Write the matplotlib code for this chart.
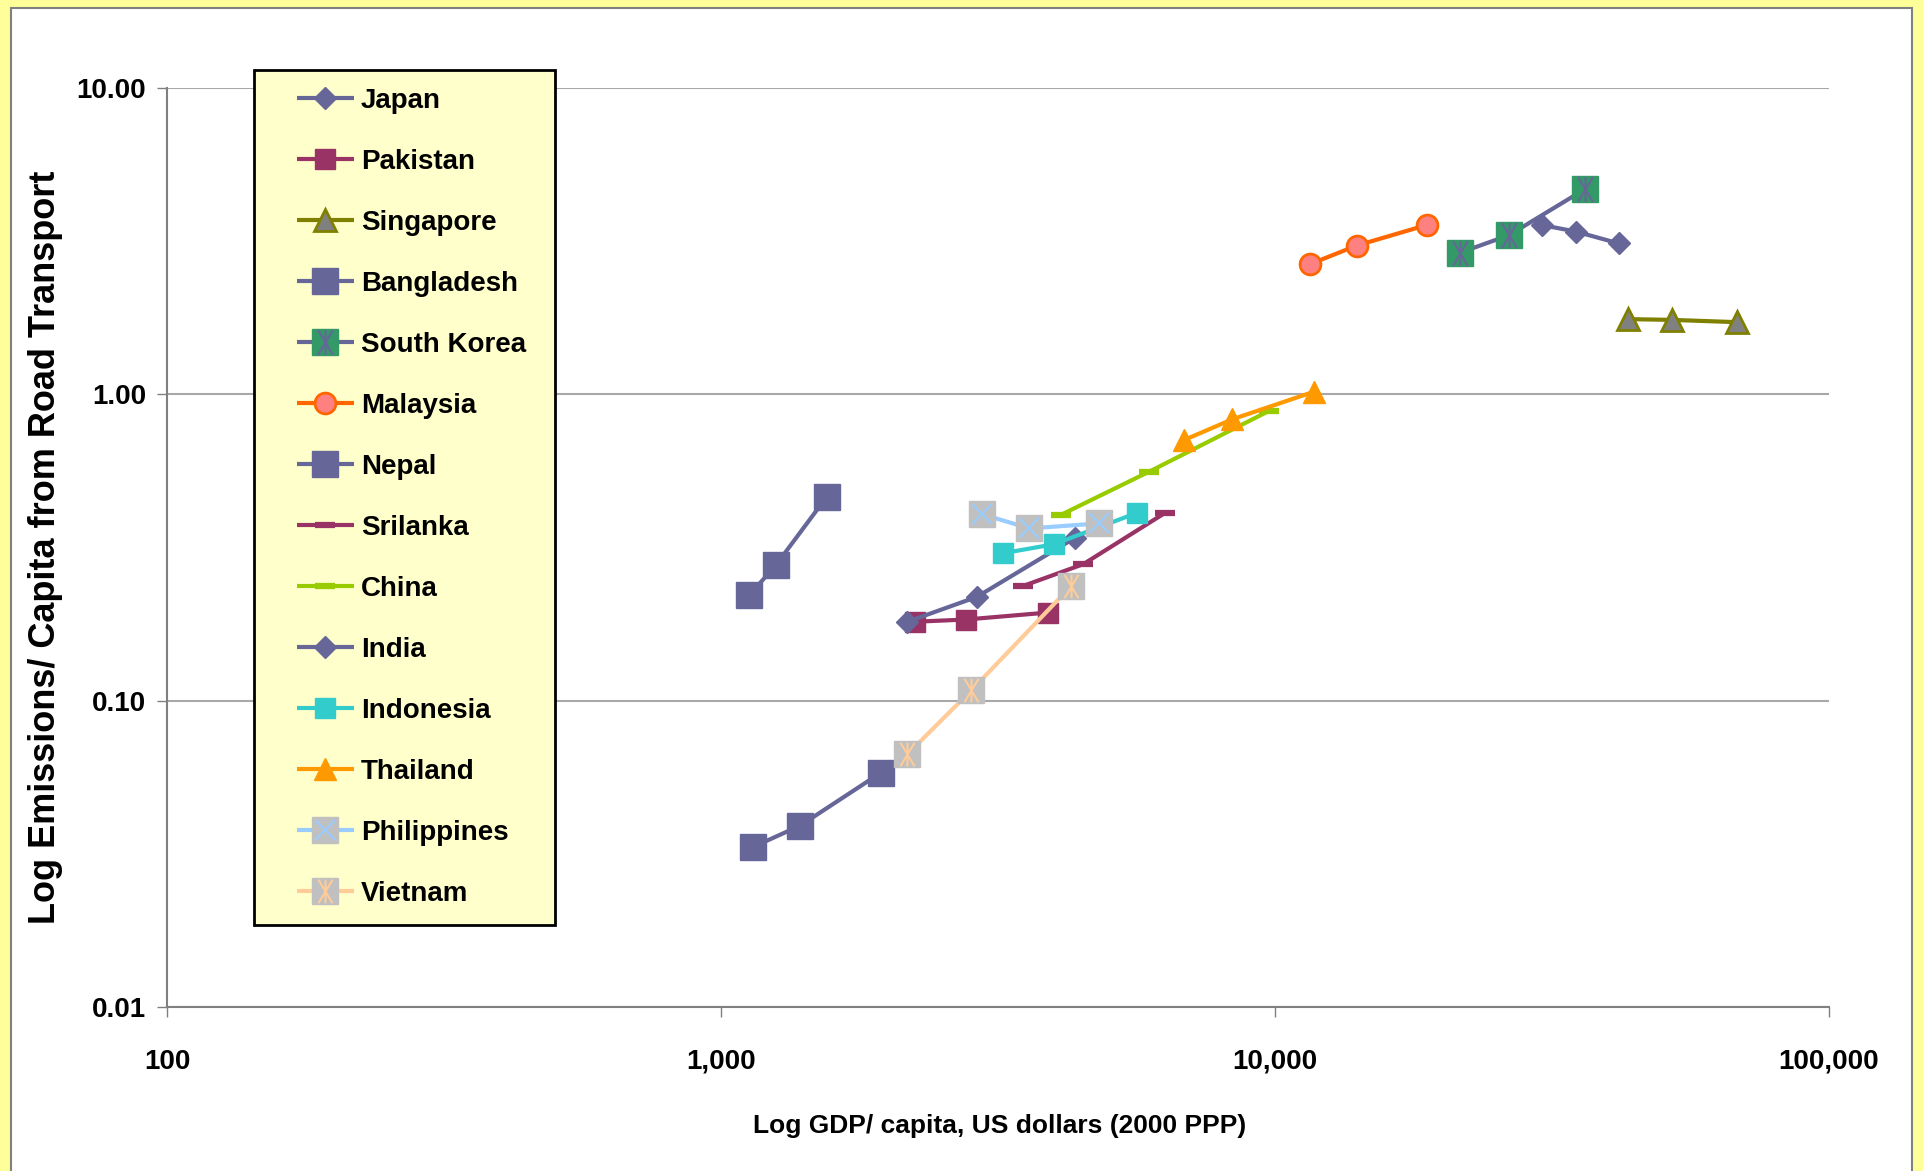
import numpy as np
import matplotlib.pyplot as plt
from matplotlib.patches import Rectangle
from matplotlib.path import Path
from matplotlib.legend_handler import HandlerTuple
from matplotlib.ticker import NullLocator

plt.rcParams['font.family'] = ['Liberation Sans', 'DejaVu Sans']
plt.rcParams['font.weight'] = 'bold'

# GDP per capita (US$ 2000 PPP) and road transport emissions per capita
countries = ["Japan", "Pakistan", "Singapore", "Bangladesh", "South Korea", "Malaysia", "Nepal",
             "Srilanka", "China", "India", "Indonesia", "Thailand", "Philippines", "Vietnam"]

japan_gdp = [30300, 34900, 41700]
japan_em = [3.57, 3.40, 3.11]
pakistan_gdp = [2240, 2765, 3900]
pakistan_em = [0.181, 0.184, 0.194]
singapore_gdp = [43450, 52000, 68300]
singapore_em = [1.76, 1.75, 1.72]
bangladesh_gdp = [1125, 1256, 1552]
bangladesh_em = [0.221, 0.277, 0.463]
korea_gdp = [21580, 26470, 36300]
korea_em = [2.90, 3.31, 4.68]
malaysia_gdp = [11560, 14050, 18780]
malaysia_em = [2.66, 3.06, 3.57]
nepal_gdp = [1143, 1390, 1944]
nepal_em = [0.0333, 0.0391, 0.0582]
srilanka_gdp = [3514, 4508, 6330]
srilanka_em = [0.237, 0.279, 0.410]
china_gdp = [4105, 5925, 9770]
china_em = [0.404, 0.559, 0.884]
india_gdp = [2170, 2894, 4355]
india_em = [0.181, 0.218, 0.340]
indonesia_gdp = [3233, 3990, 5627]
indonesia_em = [0.303, 0.324, 0.410]
thailand_gdp = [6850, 8375, 11760]
thailand_em = [0.709, 0.829, 1.02]
philippines_gdp = [2963, 3602, 4819]
philippines_em = [0.406, 0.365, 0.379]
vietnam_gdp = [2169, 2830, 4290]
vietnam_em = [0.0668, 0.108, 0.237]

series = {
    "Japan": (japan_gdp, japan_em),
    "Pakistan": (pakistan_gdp, pakistan_em),
    "Singapore": (singapore_gdp, singapore_em),
    "Bangladesh": (bangladesh_gdp, bangladesh_em),
    "South Korea": (korea_gdp, korea_em),
    "Malaysia": (malaysia_gdp, malaysia_em),
    "Nepal": (nepal_gdp, nepal_em),
    "Srilanka": (srilanka_gdp, srilanka_em),
    "China": (china_gdp, china_em),
    "India": (india_gdp, india_em),
    "Indonesia": (indonesia_gdp, indonesia_em),
    "Thailand": (thailand_gdp, thailand_em),
    "Philippines": (philippines_gdp, philippines_em),
    "Vietnam": (vietnam_gdp, vietnam_em),
}

# Excel-style asterisk: vertical bar plus an X
star = Path([(0, -1), (0, 1), (-0.6, -1), (0.6, 1), (-0.6, 1), (0.6, -1)],
            [Path.MOVETO, Path.LINETO] * 3)

purple = '#666699'
maroon = '#993366'
grey = '#C0C0C0'
styles = {
    "Japan": dict(color=purple, marker='D', ms=11, mfc=purple, mec=purple),
    "Pakistan": dict(color=maroon, marker='s', ms=15, mfc=maroon, mec=maroon),
    "Singapore": dict(color='#808000', marker='^', ms=16, mfc='#808080', mec='#808000', mew=2),
    "Bangladesh": dict(color=purple, marker='s', ms=19, mfc=purple, mec=purple),
    "South Korea": dict(color=purple, marker='s', ms=19, mfc='#339966', mec='#339966'),
    "Malaysia": dict(color='#FF6600', marker='o', ms=15, mfc='#FF8080', mec='#FF6600', mew=2),
    "Nepal": dict(color=purple, marker='s', ms=19, mfc=purple, mec=purple),
    "Srilanka": dict(color=maroon, marker='_', ms=15, mec=maroon, mew=4.5),
    "China": dict(color='#99CC00', marker='_', ms=15, mec='#99CC00', mew=4.5),
    "India": dict(color=purple, marker='D', ms=11, mfc=purple, mec=purple),
    "Indonesia": dict(color='#33CCCC', marker='s', ms=15, mfc='#33CCCC', mec='#33CCCC'),
    "Thailand": dict(color='#FF9900', marker='^', ms=16, mfc='#FF9900', mec='#FF9900'),
    "Philippines": dict(color='#99CCFF', marker='s', ms=19, mfc=grey, mec=grey),
    "Vietnam": dict(color='#FFCC99', marker='s', ms=19, mfc=grey, mec=grey),
}
overlays = {
    "South Korea": dict(marker=star, ms=18, mec=purple, mfc='none', mew=1.5),
    "Philippines": dict(marker='x', ms=15, mec='#99CCFF', mew=1.5),
    "Vietnam": dict(marker=star, ms=17, mec='#FFCC99', mfc='none', mew=1.5),
}

W, H = 1923, 1171
fig = plt.figure(figsize=(W / 100, H / 100), dpi=100, facecolor='#FFFF99')

# white chart area with grey border
fig.patches.append(Rectangle((11 / W, -0.01), 1901 / W, 1.01 - 8 / H, transform=fig.transFigure,
                             facecolor='white', edgecolor='#808080', lw=1.5, zorder=-1))

ax = fig.add_axes([167 / W, 1 - 1007 / H, 1662 / W, 919 / H])
ax.set_facecolor('none')

handles = []
for name in countries:
    x, y = series[name]
    st = styles[name]
    ln, = ax.plot(x, y, lw=3, solid_capstyle='butt', **st)
    if name in overlays:
        ov, = ax.plot(x, y, ls='none', **overlays[name])
        handles.append((ln, ov))
    else:
        handles.append(ln)

ax.set_xscale('log')
ax.set_yscale('log')
ax.set_xlim(100, 100000)
ax.set_ylim(0.01, 10)
ax.set_xticks([100, 1000, 10000, 100000])
ax.set_xticklabels(["100", "1,000", "10,000", "100,000"])
ax.set_yticks([0.01, 0.1, 1, 10])
ax.set_yticklabels(["0.01", "0.10", "1.00", "10.00"])
ax.xaxis.set_minor_locator(NullLocator())
ax.yaxis.set_minor_locator(NullLocator())
ax.tick_params(axis='both', direction='out', length=7, width=1, color='#808080', labelsize=20)
ax.tick_params(axis='x', pad=23)
ax.tick_params(axis='y', pad=8)
ax.yaxis.grid(True, color='#A8A8A8', lw=1.5)
ax.set_axisbelow(True)
for s in ['top', 'right']:
    ax.spines[s].set_visible(False)
for s in ['left', 'bottom']:
    ax.spines[s].set_color('#808080')
    ax.spines[s].set_linewidth(1.5)

fig.text(46 / W, 1 - 547 / H, "Log Emissions/ Capita from Road Transport", rotation=90,
         ha='center', va='center', fontsize=26)
fig.text(1000 / W, 1 - 1126 / H, "Log GDP/ capita, US dollars (2000 PPP)",
         ha='center', va='center', fontsize=19)

# legend box
fig.patches.append(Rectangle((254 / W, 1 - 925 / H), 301 / W, 855 / H, transform=fig.transFigure,
                             facecolor='#FFFFCC', edgecolor='black', lw=2, zorder=2))
fig.legend(handles, countries, loc='upper left', bbox_to_anchor=(297 / W, 1 - 88 / H),
           frameon=False, borderpad=0, borderaxespad=0, fontsize=20, numpoints=1,
           handlelength=2.05, handletextpad=0.25, labelspacing=1.26,
           handler_map={tuple: HandlerTuple(ndivide=1)})

fig.savefig('out.png', dpi=100, facecolor=fig.get_facecolor())
